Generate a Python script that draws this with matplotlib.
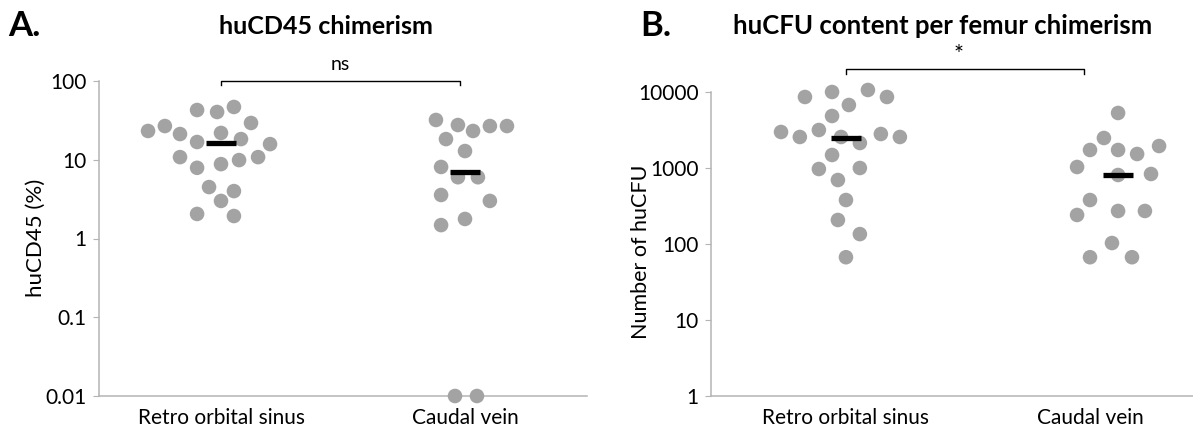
import matplotlib
matplotlib.use('Agg')
import matplotlib.pyplot as plt
import numpy as np

plt.rcParams['font.family'] = ['Lato', 'DejaVu Sans']

categories = ['Retro orbital sinus', 'Caudal vein']

# panel A - huCD45 chimerism (%)
cd45_retro = [23.2, 26.8, 21.2, 42.8, 40.4, 46.8, 29.3, 16.8, 21.9, 18.3, 15.8,
              10.8, 8.8, 9.9, 10.8, 7.9, 4.5, 4.0, 3.0, 2.05, 1.93]
cd45_retro_dx = [-0.299, -0.230, -0.168, -0.098, -0.016, 0.053, 0.123, -0.098, 0.0, 0.082, 0.201,
                 -0.168, 0.0, 0.074, 0.152, -0.098, -0.049, 0.053, 0.0, -0.098, 0.053]
cd45_caudal = [32.0, 27.6, 23.2, 26.8, 26.8, 18.3, 12.9, 8.1, 6.0, 6.0, 3.57, 3.0,
               1.77, 1.48, 0.01, 0.01]
cd45_caudal_dx = [-0.119, -0.029, 0.033, 0.102, 0.172, -0.078, 0.0, -0.098, -0.029, 0.053,
                  -0.098, 0.102, 0.0, -0.098, -0.041, 0.049]
cd45_medians = [16.3, 7.0]
cd45_median_dx = [0.0, 0.0]

# panel B - huCFU per femur
cfu_retro = [2978, 2559, 8597, 3162, 10000, 4833, 6745, 10630, 8597, 2559, 2133,
             2801, 2559, 1483, 970, 1000, 695, 379, 207, 135, 67]
cfu_retro_dx = [-0.266, -0.189, -0.168, -0.111, -0.057, -0.057, 0.012, 0.090, 0.168, -0.020, 0.057,
                0.143, 0.221, -0.057, -0.111, 0.057, -0.033, 0.0, -0.033, 0.057, 0.0]
cfu_caudal = [5296, 2482, 1726, 1726, 1528, 1946, 1031, 809, 834, 379, 241, 272, 272,
              103, 67, 67]
cfu_caudal_dx = [0.115, 0.057, 0.0, 0.115, 0.193, 0.283, -0.053, 0.115, 0.250, 0.0, -0.053,
                 0.115, 0.225, 0.090, 0.0, 0.172]
cfu_medians = [2500, 800]
cfu_median_dx = [0.0, 0.115]

DOT = '#A3A3A3'
AXC = '#B4B4B4'

fig = plt.figure(figsize=(11.93, 4.33), dpi=100)


def draw_panel(ax, groups, offsets, medians, med_dx, ticks, ticklabels, xlim):
    for i, (vals, dx) in enumerate(zip(groups, offsets)):
        xs = i + 1 + np.array(dx)
        ax.scatter(xs, vals, s=110, color=DOT, edgecolors='none', zorder=3, clip_on=False)
    for i, m in enumerate(medians):
        xc = i + 1 + med_dx[i]
        ax.hlines(m, xc - 0.06, xc + 0.06, color='black', lw=3.8, zorder=4)
    ax.set_yscale('log')
    ax.set_ylim(ticks[0], ticks[-1])
    ax.set_yticks(ticks)
    ax.set_yticklabels(ticklabels)
    ax.minorticks_off()
    ax.set_xlim(*xlim)
    ax.set_xticks([1, 2])
    ax.set_xticklabels(categories)
    for s in ['top', 'right']:
        ax.spines[s].set_visible(False)
    for s in ['left', 'bottom']:
        ax.spines[s].set_color(AXC)
        ax.spines[s].set_linewidth(1.1)
    ax.tick_params(axis='y', length=4, color=AXC, labelsize=15, pad=5)
    ax.tick_params(axis='x', length=0, labelsize=15, pad=9)
    ax.patch.set_alpha(0)


# panel A
axA = fig.add_axes([99 / 1193, 37 / 433, 488 / 1193, 315 / 433])
draw_panel(axA, [cd45_retro, cd45_caudal], [cd45_retro_dx, cd45_caudal_dx],
           cd45_medians, cd45_median_dx,
           [0.01, 0.1, 1, 10, 100], ['0.01', '0.1', '1', '10', '100'], (0.5, 2.5))
axA.plot([1.0, 1.0, 1.98, 1.98], [89, 100, 100, 89], color='black', lw=1, clip_on=False)
axA.text(1.49, 100 * 10 ** (8 / 78.75), 'ns', ha='center', va='bottom', fontsize=14)

# panel B
axB = fig.add_axes([711 / 1193, 37 / 433, 482 / 1193, 304 / 433])
draw_panel(axB, [cfu_retro, cfu_caudal], [cfu_retro_dx, cfu_caudal_dx],
           cfu_medians, cfu_median_dx,
           [1, 10, 100, 1000, 10000], ['1', '10', '100', '1000', '10000'], (0.447, 2.422))
axB.plot([1.0, 1.0, 1.975, 1.975], [17260, 20090, 20090, 17260], color='black', lw=1, clip_on=False)
axB.text(1.463, 31600, '*', ha='center', va='center', fontsize=17)

# labels and titles
fig.text(36 / 1193, 1 - 238 / 433, 'huCD45 (%)', rotation=90, ha='center', va='center', fontsize=16)
fig.text(641 / 1193, 1 - 252 / 433, 'Number of huCFU', rotation=90, ha='center', va='center', fontsize=15.5)
fig.text(326 / 1193, 1 - 26 / 433, 'huCD45 chimerism', ha='center', va='center',
         fontsize=18, fontweight='bold')
fig.text(943 / 1193, 1 - 26 / 433, 'huCFU content per femur chimerism', ha='center', va='center',
         fontsize=18.5, fontweight='bold')
fig.text(8 / 1193, 1 - 26 / 433, 'A.', ha='left', va='center', fontsize=25, fontweight='bold')
fig.text(640 / 1193, 1 - 26 / 433, 'B.', ha='left', va='center', fontsize=25, fontweight='bold')

fig.savefig('out.png', dpi=100)
